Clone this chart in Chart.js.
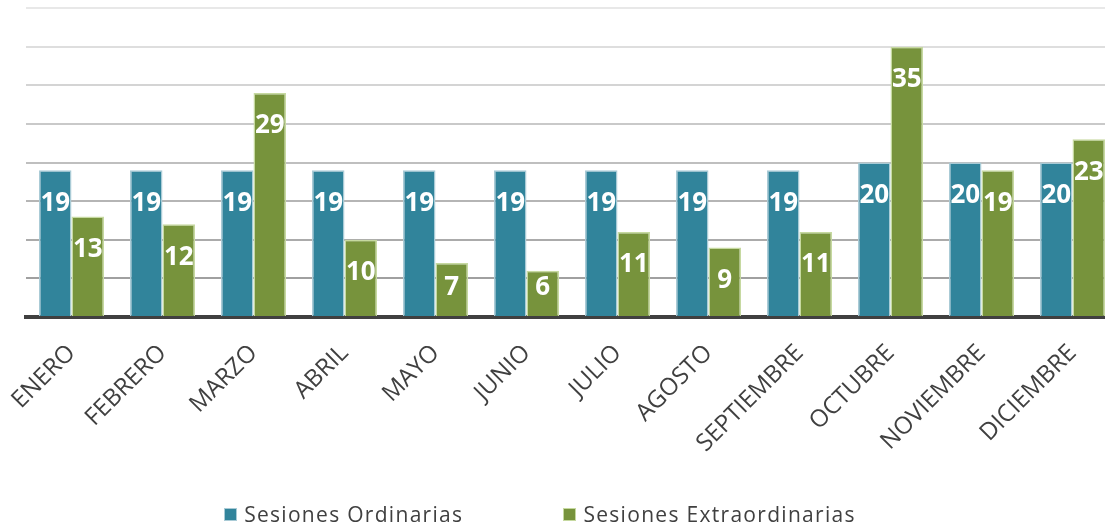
<!DOCTYPE html>
<html>
<head>
<meta charset="utf-8">
<script src="https://cdn.jsdelivr.net/npm/chart.js@4.4.1/dist/chart.umd.min.js"></script>
<style>
  html, body { margin: 0; padding: 0; background: #fff; overflow: hidden; }
  #wrap { position: relative; width: 1105px; height: 529px; overflow: hidden; }
  #box { position: absolute; left: 0; top: 0; width: 1120px; height: 529px; }
  #legend { position: absolute; left: 0; width: 1080px; top: 500px; display: flex; justify-content: center;
            font-family: "Open Sans", sans-serif; font-size: 21px; letter-spacing: 1.3px; color: #404040; }
  #legend .item { display: flex; align-items: center; margin: 0 50px; white-space: nowrap; }
  #legend .sw { width: 11px; height: 11px; margin-right: 7px; border: 1.5px solid; }
</style>
</head>
<body>
<div id="wrap">
  <div id="box"><canvas id="myChart" width="1120" height="529"></canvas></div>
  <div id="legend"></div>
</div>
<script>
const meses = ['ENERO', 'FEBRERO', 'MARZO', 'ABRIL', 'MAYO', 'JUNIO', 'JULIO', 'AGOSTO', 'SEPTIEMBRE', 'OCTUBRE', 'NOVIEMBRE', 'DICIEMBRE'];
const ordinarias = [19, 19, 19, 19, 19, 19, 19, 19, 19, 20, 20, 20];
const extraordinarias = [13, 12, 29, 10, 7, 6, 11, 9, 11, 35, 19, 23];
const series = ['Sesiones Ordinarias', 'Sesiones Extraordinarias'];

const azul = '#31849b', azulBorde = '#a9cbd6';
const verde = '#77933c', verdeBorde = '#c6d9a0';

// numbers inside the top of each bar
const valueLabels = {
  id: 'valueLabels',
  afterDatasetsDraw(chart) {
    const ctx = chart.ctx;
    const base = chart.scales.y.getPixelForValue(0);
    ctx.save();
    ctx.fillStyle = '#fff';
    ctx.font = 'bold 26px "Open Sans"';
    ctx.textAlign = 'center';
    ctx.textBaseline = 'middle';
    chart.data.datasets.forEach((ds, i) => {
      chart.getDatasetMeta(i).data.forEach((bar, j) => {
        const y = Math.min(bar.y + 33, base - 29);
        ctx.fillText(ds.data[j], bar.x, y);
      });
    });
    ctx.restore();
  }
};

function gridColor(ctx) {
  const v = ctx.tick ? ctx.tick.value : 0;
  const g = Math.round(150 + (v / 40) * 82);
  return `rgb(${g},${g},${g})`;
}

const myChart = new Chart(document.getElementById('myChart'), {
  type: 'bar',
  data: {
    labels: meses,
    datasets: [{
      label: series[0],
      data: ordinarias,
      backgroundColor: azul,
      borderColor: azulBorde,
      borderWidth: 1.5
    }, {
      label: series[1],
      data: extraordinarias,
      backgroundColor: verde,
      borderColor: verdeBorde,
      borderWidth: 1.5
    }]
  },
  options: {
    responsive: false,
    animation: false,
    events: [],
    layout: { padding: { left: 26, right: 2, top: 8, bottom: 0 } },
    datasets: { bar: { barPercentage: 1, categoryPercentage: 0.714 } },
    plugins: { legend: { display: false }, tooltip: { enabled: false } },
    scales: {
      x: {
        grid: { display: false, drawTicks: false },
        border: { color: '#404040', width: 4 },
        ticks: {
          autoSkip: false, minRotation: 45, maxRotation: 45, padding: 22,
          color: '#404040', font: { family: '"Open Sans"', size: 24 }
        },
        afterFit(scale) {
          scale.height = 212;
          scale.paddingLeft = 0;  // rotated labels may run past the left edge
          scale.paddingRight = 0;
        }
      },
      y: {
        min: 0, max: 40,
        ticks: { display: false, stepSize: 5 },
        grid: { color: gridColor, lineWidth: 2, drawTicks: false },
        border: { display: false },
        afterFit(scale) { scale.width = 0; }
      }
    }
  },
  plugins: [valueLabels]
});

const legend = document.getElementById('legend');
myChart.data.datasets.forEach(ds => {
  const item = document.createElement('div');
  item.className = 'item';
  const sw = document.createElement('span');
  sw.className = 'sw';
  sw.style.background = ds.backgroundColor;
  sw.style.borderColor = ds.borderColor;
  const txt = document.createElement('span');
  txt.textContent = ds.label;
  item.appendChild(sw);
  item.appendChild(txt);
  legend.appendChild(item);
});
</script>
</body>
</html>
